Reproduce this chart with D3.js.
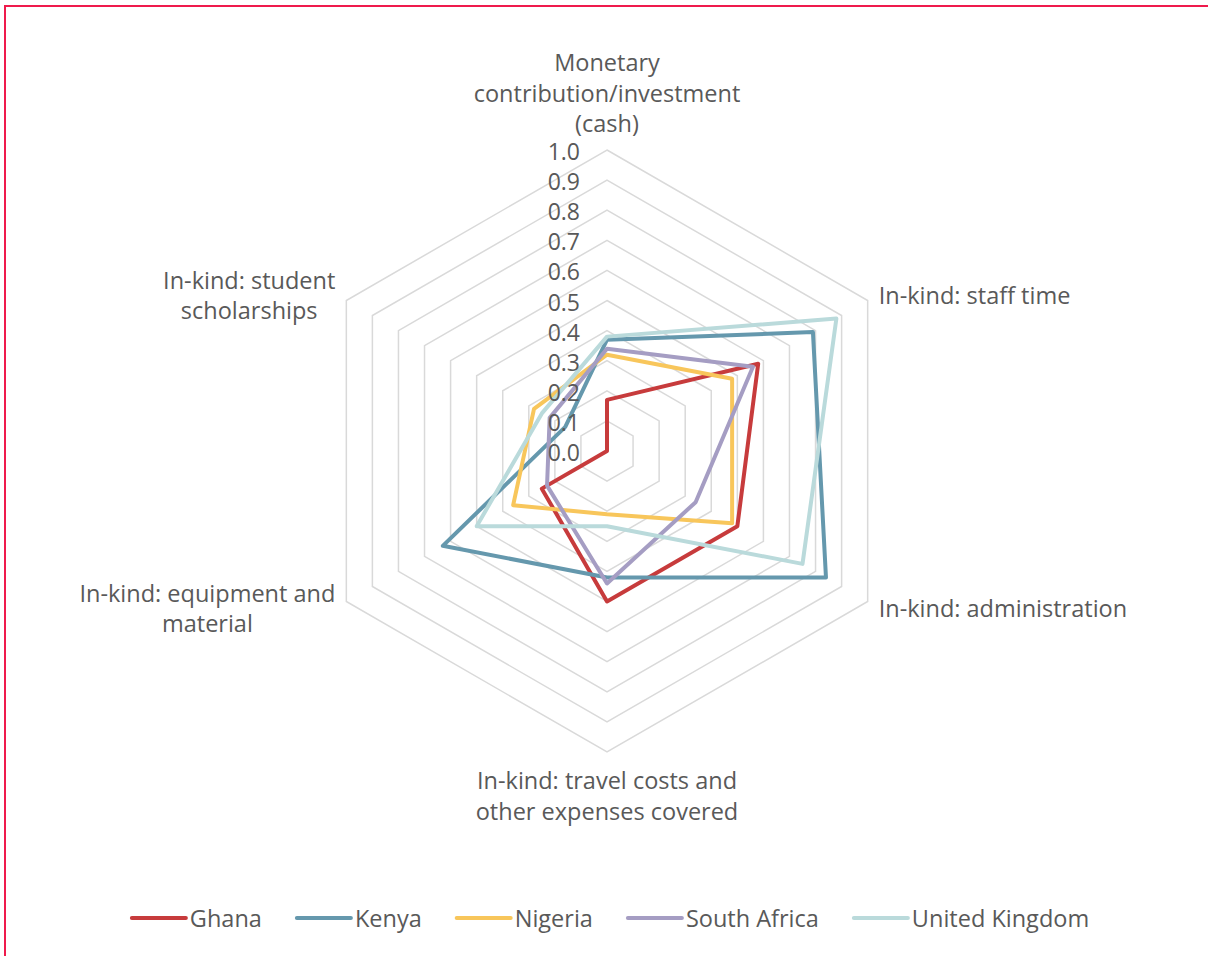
<!DOCTYPE html>
<html>
<head>
<meta charset="utf-8">
<script src="https://cdn.jsdelivr.net/npm/d3@7"></script>
<style>
  body { margin: 0; background: #fff; }
  svg { display: block; }
  text { font-family: "Open Sans", "Noto Sans", sans-serif; fill: #595959; }
</style>
</head>
<body>
<svg id="chart" width="1208" height="956"></svg>
<script>
// Axis labels (one entry per spoke, each split into display lines)
const axisLabels = [
  ["Monetary", "contribution/investment", "(cash)"],
  ["In-kind: staff time"],
  ["In-kind: administration"],
  ["In-kind: travel costs and", "other expenses covered"],
  ["In-kind: equipment and", "material"],
  ["In-kind: student", "scholarships"]
];

// Series names and values, in axis order
const countries = ["Ghana", "Kenya", "Nigeria", "South Africa", "United Kingdom"];
const ghana         = [0.17, 0.58, 0.50, 0.50, 0.25, 0.00];
const kenya         = [0.37, 0.79, 0.84, 0.42, 0.63, 0.16];
const nigeria       = [0.32, 0.48, 0.48, 0.21, 0.36, 0.28];
const southAfrica   = [0.34, 0.56, 0.34, 0.44, 0.23, 0.22];
const unitedKingdom = [0.38, 0.88, 0.75, 0.25, 0.50, 0.25];
const seriesValues = [ghana, kenya, nigeria, southAfrica, unitedKingdom];

// Radial tick labels
const tickValues = [0.0, 0.1, 0.2, 0.3, 0.4, 0.5, 0.6, 0.7, 0.8, 0.9, 1.0];
const tickLabels = ["0.0", "0.1", "0.2", "0.3", "0.4", "0.5", "0.6", "0.7", "0.8", "0.9", "1.0"];

const palette = ["#C73B3C", "#6598AD", "#F8C65B", "#A59DC3", "#BADADB"];

const svg = d3.select("#chart");
const W = 1208, H = 956;
const cx = 607, cy = 451, R = 301;
const labelSize = 23.5, tickSize = 23;

// page frame
svg.append("rect")
  .attr("x", 5).attr("y", 6)
  .attr("width", W + 40).attr("height", H + 40)
  .attr("fill", "none")
  .attr("stroke", "#EF1A4C")
  .attr("stroke-width", 2);

const g = svg.append("g").attr("transform", `translate(${cx},${cy})`);

const r = d3.scaleLinear().domain([0, 1]).range([0, R]);
const angle = d3.scaleLinear().domain([0, axisLabels.length]).range([0, 2 * Math.PI]);

const radialLine = d3.lineRadial()
  .angle((d, i) => angle(i))
  .radius(d => r(d))
  .curve(d3.curveLinearClosed);

// hexagonal grid rings
g.append("g").selectAll("path")
  .data(tickValues.filter(v => v > 0))
  .join("path")
  .attr("d", v => radialLine(axisLabels.map(() => v)))
  .attr("fill", "none")
  .attr("stroke", "#D9D9D9")
  .attr("stroke-width", 1.5);

// series polygons
g.append("g").selectAll("path")
  .data(seriesValues)
  .join("path")
  .attr("d", d => radialLine(d))
  .attr("fill", "none")
  .attr("stroke", (d, i) => palette[i])
  .attr("stroke-width", 4)
  .attr("stroke-linejoin", "round");

// tick labels along the top spoke
g.append("g").selectAll("text")
  .data(tickValues)
  .join("text")
  .attr("x", -27)
  .attr("y", v => -r(v) + 1)
  .attr("text-anchor", "end")
  .attr("dominant-baseline", "central")
  .attr("font-size", tickSize)
  .text((v, i) => tickLabels[i]);

// axis labels placed just outside each vertex
const lineH = 30.5;
axisLabels.forEach((lines, i) => {
  const a = angle(i);
  const vx = Math.sin(a) * r(1);
  const vy = -Math.cos(a) * r(1);
  const s = Math.sin(a), c = Math.cos(a);
  const t = g.append("text").attr("font-size", labelSize).attr("dominant-baseline", "central");
  const spans = lines.map(l => t.append("tspan").text(l));
  let firstY, anchorX, anchor;
  if (Math.abs(s) < 0.01) {
    anchor = "middle";
    anchorX = vx;
    firstY = c > 0 ? vy - 27 - (lines.length - 1) * lineH : vy + 28;
  } else {
    const blockCenter = vy + (c > 0 ? -5.5 : 6.5);
    firstY = blockCenter - (lines.length - 1) * lineH / 2;
    if (s > 0) {
      anchor = "start";
      anchorX = vx + 11;
    } else {
      anchor = "middle";
      const maxW = d3.max(spans, sp => sp.node().getComputedTextLength());
      anchorX = vx - 11 - maxW / 2;
    }
  }
  t.attr("text-anchor", anchor);
  spans.forEach((sp, k) => sp.attr("x", anchorX).attr("y", firstY + k * lineH));
});

// legend
const legend = svg.append("g");
const legendY = 918, swatch = 54, swatchGap = 4, itemGap = 35;
let lx = 0;
countries.forEach((name, i) => {
  const item = legend.append("g");
  item.append("line")
    .attr("x1", 0).attr("x2", swatch)
    .attr("y1", 0).attr("y2", 0)
    .attr("stroke", palette[i])
    .attr("stroke-width", 4)
    .attr("stroke-linecap", "round");
  const txt = item.append("text")
    .attr("x", swatch + swatchGap)
    .attr("y", 0)
    .attr("dominant-baseline", "central")
    .attr("font-size", labelSize)
    .text(name);
  const w = swatch + swatchGap + txt.node().getComputedTextLength();
  item.attr("transform", `translate(${lx},0)`);
  lx += w + itemGap;
});
const totalW = lx - itemGap;
legend.attr("transform", `translate(${610.5 - totalW / 2},${legendY})`);
</script>
</body>
</html>
